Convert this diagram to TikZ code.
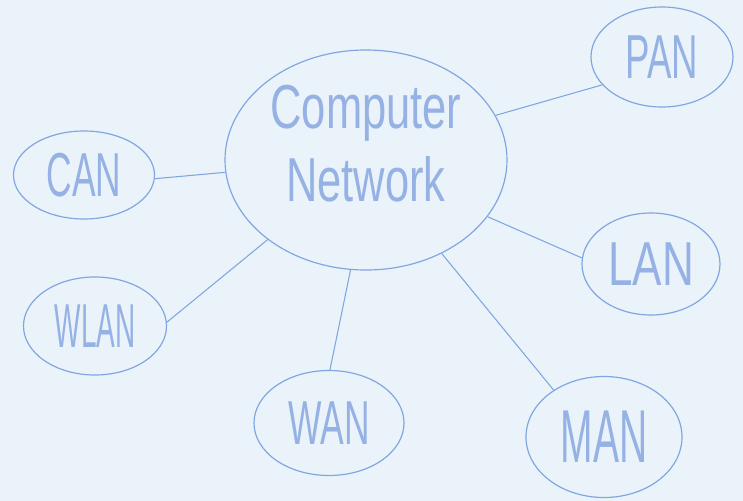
\documentclass[tikz,border=0pt]{standalone}
\usepackage{fontspec}
\setmainfont{Liberation Sans}
\usepackage{tikz}
\usetikzlibrary{shapes.geometric}
\definecolor{boardbg}{RGB}{234,243,250}
\definecolor{penblue}{RGB}{128,165,225}
\definecolor{inkblue}{RGB}{150,178,228}
\newcommand{\narrowtext}[2][0.6]{\scalebox{#1}[1]{#2}}
\tikzset{
  netnode/.style={ellipse, draw=penblue, line width=1pt, text=inkblue, inner sep=0pt,
    font=\fontsize{53}{62}\selectfont, align=center},
  netlink/.style={draw=penblue, line width=0.9pt}
}
\begin{document}
\begin{tikzpicture}[x=0.03cm, y=-0.03cm]
    \fill[boardbg] (0,0) rectangle (743,501);
    \useasboundingbox (0,0) rectangle (743,501);

    % central topic
    \node[netnode, minimum width=8.46cm, minimum height=6.6cm, text depth=1.0cm] (net) at (366,160)
      {\narrowtext[0.7]{Computer}\\\narrowtext[0.7]{Network}};

    % network types
    \node[netnode, minimum width=4.26cm, minimum height=3.00cm] (pan)  at (662,57)  {\narrowtext[0.59]{PAN}};
    \node[netnode, minimum width=4.23cm, minimum height=2.64cm] (can)  at (84,175)  {\narrowtext[0.57]{CAN}};
    \node[netnode, minimum width=4.14cm, minimum height=3.06cm] (lan)  at (651,264) {\narrowtext[0.71]{LAN}};
    \node[netnode, minimum width=4.29cm, minimum height=2.94cm] (wlan) at (95,326)  {\narrowtext[0.45]{WLAN}};
    \node[netnode, minimum width=4.50cm, minimum height=3.15cm] (wan)  at (329,423) {\narrowtext[0.57]{WAN}};
    \node[netnode, minimum width=4.68cm, minimum height=3.63cm,
      font=\fontsize{64}{70}\selectfont] (man) at (604,437) {\narrowtext[0.52]{MAN}};

    \draw[netlink] (net.19)  -- (pan.205);
    \draw[netlink] (can.-3)  -- (net.185);
    \draw[netlink] (net.-25) -- (lan.175);
    \draw[netlink] (wlan.3)  -- (net.219);
    \draw[netlink] (net.262) -- (wan.89);
    \draw[netlink] (net.309) -- (man.137);
\end{tikzpicture}
\end{document}
